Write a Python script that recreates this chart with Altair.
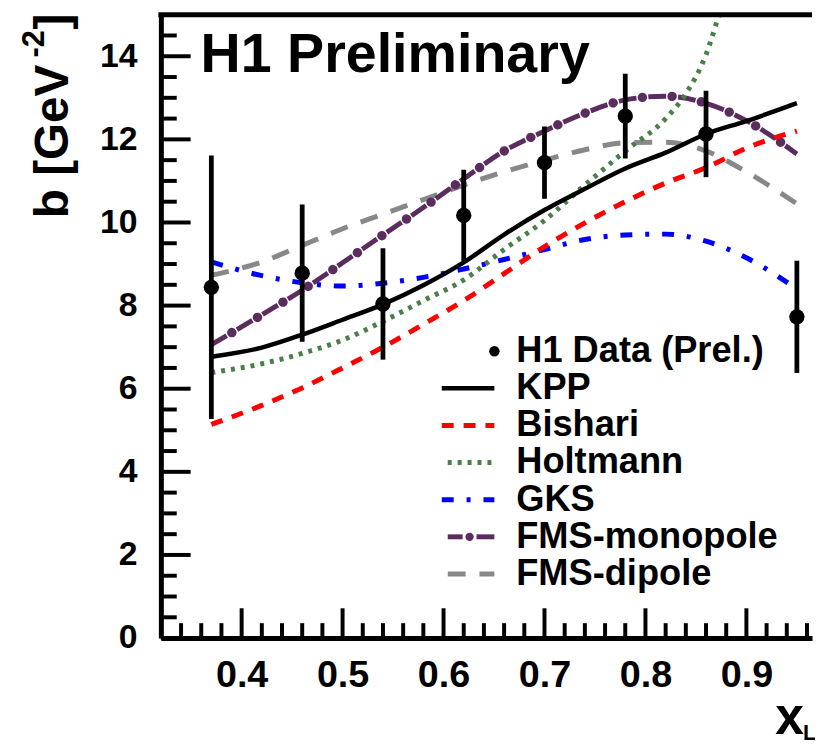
import altair as alt
import pandas as pd

# ---------------- data ----------------
x_grid = [0.37, 0.42, 0.46, 0.50, 0.54, 0.58, 0.62, 0.66, 0.70, 0.74, 0.78, 0.82, 0.86, 0.90, 0.95]
kpp      = [6.77, 6.99, 7.30, 7.66, 8.03, 8.49, 9.04, 9.71, 10.30, 10.81, 11.30, 11.68, 12.13, 12.44, 12.87]
bishari  = [5.14, 5.60, 6.02, 6.50, 7.00, 7.55, 8.12, 8.77, 9.42, 9.99, 10.50, 10.95, 11.32, 11.79, 12.20]
gks      = [9.05, 8.72, 8.55, 8.47, 8.54, 8.68, 8.88, 9.11, 9.35, 9.59, 9.70, 9.72, 9.55, 9.15, 8.40]
fms_mono = [7.06, 7.78, 8.37, 9.03, 9.70, 10.36, 11.05, 11.72, 12.20, 12.63, 12.95, 13.04, 12.87, 12.45, 11.65]
fms_dip  = [8.73, 9.05, 9.45, 9.85, 10.20, 10.55, 10.90, 11.22, 11.50, 11.75, 11.92, 11.93, 11.72, 11.22, 10.45]
holt_x   = [0.37, 0.42, 0.46, 0.50, 0.54, 0.58, 0.62, 0.66, 0.70, 0.74, 0.78, 0.82, 0.84, 0.86, 0.873, 0.88]
holtmann = [6.39, 6.60, 6.85, 7.17, 7.62, 8.12, 8.62, 9.35, 10.05, 10.90, 11.72, 12.50, 13.10, 14.04, 15.00, 15.50]

data_x   = [0.37, 0.46, 0.54, 0.62, 0.70, 0.78, 0.86, 0.95]
data_y   = [8.44, 8.78, 8.04, 10.17, 11.44, 12.56, 12.13, 7.73]
data_err = [3.17, 1.65, 1.34, 1.10, 0.87, 1.02, 1.04, 1.35]

x_major = [0.4, 0.5, 0.6, 0.7, 0.8, 0.9]
x_minor = [0.34, 0.36, 0.38, 0.42, 0.44, 0.46, 0.48, 0.52, 0.54, 0.56, 0.58,
           0.62, 0.64, 0.66, 0.68, 0.72, 0.74, 0.76, 0.78, 0.82, 0.84, 0.86, 0.88,
           0.92, 0.94, 0.96]
y_major = [0, 2, 4, 6, 8, 10, 12, 14]
y_minor = [0.5, 1, 1.5, 2.5, 3, 3.5, 4.5, 5, 5.5, 6.5, 7, 7.5, 8.5, 9, 9.5,
           10.5, 11, 11.5, 12.5, 13, 13.5, 14.5]

legend_labels = ["H1 Data (Prel.)", "KPP", "Bishari", "Holtmann", "GKS", "FMS-monopole", "FMS-dipole"]

# ---------------- layout / style ----------------
W, H = 656, 628
FONT = "Liberation Sans"
XDOM = [0.32, 0.965]
YDOM = [0, 15]

xs = alt.Scale(domain=XDOM, nice=False, zero=False)
ys = alt.Scale(domain=YDOM, nice=False, zero=True)

xaxis = alt.Axis(values=x_major, format=".1f", ticks=False, grid=False,
                 domainWidth=5, domainColor="black", labelFont=FONT,
                 labelFontSize=38, labelFontWeight="bold", labelColor="black",
                 labelPadding=19, title=None, labelFlush=False)
yaxis = alt.Axis(values=y_major, format="d", ticks=False, grid=False,
                 domainWidth=5, domainColor="black", labelFont=FONT,
                 labelFontSize=34, labelFontWeight="bold", labelColor="black",
                 labelPadding=24, title=None, labelFlush=False)

X = lambda f: alt.X(f, scale=xs, axis=xaxis)
Y = lambda f: alt.Y(f, scale=ys, axis=yaxis)

PURPLE = "#5b2c5e"
styles = {
    "KPP":          dict(color="black", strokeWidth=4.5),
    "Bishari":      dict(color="#ff0000", strokeWidth=5, strokeDash=[12, 10]),
    "Holtmann":     dict(color="#4a7f4a", strokeWidth=5, strokeDash=[4, 6]),
    "GKS":          dict(color="#0000ff", strokeWidth=5, strokeDash=[12, 13, 4, 13]),
    "FMS-monopole": dict(color=PURPLE, strokeWidth=5, strokeDash=[18, 12]),
    "FMS-dipole":   dict(color="#888888", strokeWidth=5, strokeDash=[18, 14]),
}
mono_dots = dict(color=PURPLE, strokeWidth=9.5, strokeDash=[0.01, 29.99],
                 strokeCap="round", strokeDashOffset=6)

series = {
    "FMS-dipole": (x_grid, fms_dip),
    "FMS-monopole": (x_grid, fms_mono),
    "GKS": (x_grid, gks),
    "Holtmann": (holt_x, holtmann),
    "Bishari": (x_grid, bishari),
    "KPP": (x_grid, kpp),
}

layers = []
for name, (xv, yv) in series.items():
    df = pd.DataFrame({"x": xv, "y": yv})
    base = alt.Chart(df)
    layers.append(
        base.mark_line(interpolate="monotone", clip=True, **styles[name])
        .encode(x=X("x:Q"), y=Y("y:Q"))
    )
    if name == "FMS-monopole":
        layers.append(
            base.mark_line(interpolate="monotone", clip=True, **mono_dots)
            .encode(x=X("x:Q"), y=Y("y:Q"))
        )

ddf = pd.DataFrame({"x": data_x, "y": data_y,
                    "lo": [a - b for a, b in zip(data_y, data_err)],
                    "hi": [a + b for a, b in zip(data_y, data_err)]})
layers.append(alt.Chart(ddf).mark_rule(color="black", strokeWidth=4.8)
              .encode(x=X("x:Q"), y=Y("lo:Q"), y2="hi:Q"))
layers.append(alt.Chart(ddf).mark_circle(color="black", size=240, opacity=1)
              .encode(x=X("x:Q"), y=Y("y:Q")))

# ticks (inward)
layers.append(alt.Chart(pd.DataFrame({"v": y_major})).mark_rule(color="black", strokeWidth=4)
              .encode(y=Y("v:Q"), x=alt.value(0), x2=alt.value(30)))
layers.append(alt.Chart(pd.DataFrame({"v": y_minor})).mark_rule(color="black", strokeWidth=4)
              .encode(y=Y("v:Q"), x=alt.value(0), x2=alt.value(16)))
layers.append(alt.Chart(pd.DataFrame({"v": x_major})).mark_rule(color="black", strokeWidth=4)
              .encode(x=X("v:Q"), y=alt.value(H), y2=alt.value(H - 30)))
layers.append(alt.Chart(pd.DataFrame({"v": x_minor})).mark_rule(color="black", strokeWidth=4)
              .encode(x=X("v:Q"), y=alt.value(H), y2=alt.value(H - 15)))
# top frame
layers.append(alt.Chart(pd.DataFrame({"v": [YDOM[1]]})).mark_rule(color="black", strokeWidth=5)
              .encode(y=Y("v:Q"), x=alt.value(-2.5), x2=alt.value(W)))

# text helper
def txt(s, x, y, size, **kw):
    return alt.Chart(pd.DataFrame({"t": [s]})).mark_text(
        font=FONT, fontSize=size, fontWeight=kw.pop("fontWeight", "bold"), color="black",
        align=kw.pop("align", "left"), baseline=kw.pop("baseline", "alphabetic"), **kw
    ).encode(text="t:N", x=alt.value(x), y=alt.value(y))

layers.append(txt("H1 Preliminary", 40, 58, 56))

# y title (rotated)
layers.append(txt("b [GeV", -94, 205, 48, angle=270))
layers.append(txt("-2", -118, 43, 31, angle=270))
layers.append(txt("]", -94, 15, 48, angle=270))
# x title
layers.append(txt("x", 619, 725, 52))
layers.append(txt("L", 647, 731, 22))

# legend
row0, drow = 339, 37.4
sx0, sx1, tx = 283, 336, 358
for i, lab in enumerate(legend_labels):
    yy = row0 + i * drow
    layers.append(txt(lab, tx, yy, 36.5, baseline="middle"))
    one = alt.Chart(pd.DataFrame({"t": [lab]}))
    if i == 0:
        layers.append(one.mark_circle(color="black", size=110, opacity=1)
                      .encode(x=alt.value(sx1), y=alt.value(yy)))
    elif lab == "FMS-monopole":
        layers.append(one.mark_rule(color=PURPLE, strokeWidth=5)
                      .encode(x=alt.value(sx0 + 6), x2=alt.value(sx0 + 21), y=alt.value(yy)))
        layers.append(one.mark_rule(color=PURPLE, strokeWidth=5)
                      .encode(x=alt.value(sx0 + 35), x2=alt.value(sx1), y=alt.value(yy)))
        layers.append(one.mark_circle(color=PURPLE, size=70, opacity=1)
                      .encode(x=alt.value(sx0 + 28), y=alt.value(yy)))
    else:
        st = dict(styles[lab])
        layers.append(one.mark_rule(**st)
                      .encode(x=alt.value(sx0 + (6 if lab in ("Holtmann", "FMS-dipole") else 0)),
                              x2=alt.value(sx1), y=alt.value(yy)))

chart = alt.layer(*layers).properties(
    width=W, height=H,
    padding={"left": 154, "top": 4, "right": 3, "bottom": 107},
    autosize=alt.AutoSizeParams(type="none"),
    background="white",
).configure_view(strokeWidth=0)

chart.save("out.html", embed_options={"renderer": "svg", "actions": False})
